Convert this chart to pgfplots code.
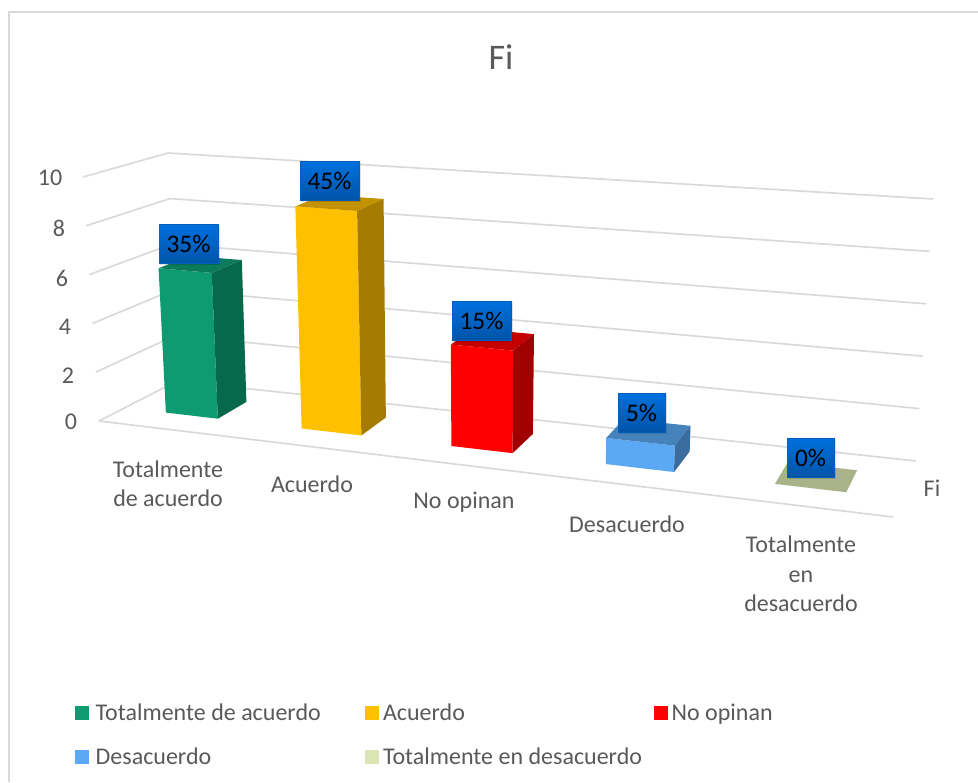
\documentclass[border=0pt]{standalone}
\usepackage{pgfplots}
\usepackage{fontspec}
\setmainfont{Carlito}
\pgfplotsset{compat=1.18}
\definecolor{txt}{HTML}{595959}
\definecolor{lineagris}{HTML}{D9D9D9}
\definecolor{boxtop}{HTML}{0070DE}
\definecolor{boxbot}{HTML}{0054A8}
\definecolor{verdeF}{HTML}{0E9B72}\definecolor{verdeT}{HTML}{0A7C5A}\definecolor{verdeS}{HTML}{06694B}
\definecolor{amarF}{HTML}{FFC000}\definecolor{amarT}{HTML}{C29200}\definecolor{amarS}{HTML}{A67C00}
\definecolor{rojoF}{HTML}{FF0000}\definecolor{rojoT}{HTML}{C40000}\definecolor{rojoS}{HTML}{A00000}
\definecolor{azulF}{HTML}{5BA9F5}\definecolor{azulT}{HTML}{4682BC}\definecolor{azulS}{HTML}{3B6C9E}
\definecolor{oliva}{HTML}{A9B389}\definecolor{olivaL}{HTML}{DBE5B6}

% One bar: s0, s1 = extent along the floor, value = height on the Fi scale.
% Depth runs from v=0.33 to v=0.73 of the floor.
\newcommand{\barra}[6]{%
  \addplot[fill=#5,draw=none,forget plot] table[row sep=\\,x expr={Px(\thisrow{s},\thisrow{v},\thisrow{w})},y expr={Py(\thisrow{s},\thisrow{v},\thisrow{w})}]
    {s v w\\ #1 0.33 0\\ #2 0.33 0\\ #2 0.33 #3\\ #1 0.33 #3\\};
  \addplot[fill=#6,draw=none,forget plot] table[row sep=\\,x expr={Px(\thisrow{s},\thisrow{v},\thisrow{w})},y expr={Py(\thisrow{s},\thisrow{v},\thisrow{w})}]
    {s v w\\ #2 0.33 #3\\ #2 0.73 #3\\ #1 0.73 #3\\ #1 0.33 #3\\};
  \addplot[fill=#4,draw=none,forget plot] table[row sep=\\,x expr={Px(\thisrow{s},\thisrow{v},\thisrow{w})},y expr={Py(\thisrow{s},\thisrow{v},\thisrow{w})}]
    {s v w\\ #2 0.33 0\\ #2 0.73 0\\ #2 0.73 #3\\ #2 0.33 #3\\};
}
% Gridline at height #1: along the left wall, then along the back wall.
\newcommand{\rejilla}[1]{%
  \addplot[lineagris,line width=1.25pt,forget plot] table[row sep=\\,x expr={Px(\thisrow{s},\thisrow{v},\thisrow{w})},y expr={Py(\thisrow{s},\thisrow{v},\thisrow{w})}]
    {s v w\\ 0 0 #1\\ 0 1 #1\\ 1 1 #1\\};
}
\tikzset{
  etiq/.style={draw=boxtop!85!black,line width=0.3pt,top color=boxtop,bottom color=boxbot,text=black,
    font=\fontsize{19}{19}\selectfont,inner sep=0pt,
    minimum height=29pt,anchor=center},
  sombra/.style={fill=black,opacity=0.12,draw=none,inner sep=0pt,minimum height=29.5pt,anchor=center},
  txtn/.style={text=txt,font=\fontsize{18}{22}\selectfont,align=center,anchor=center},
}
\newcommand{\caja}[4]{%
  \node[sombra,minimum width=#4+1pt] at (axis cs:#1+1,#2+1.5) {};
  \node[etiq,minimum width=#4] at (axis cs:#1,#2) {#3};
}
% Legend text: fixed cell width, so the columns sit where they should.
\newcommand{\celda}[3]{\makebox[#1][l]{\hspace{#2}#3}}

\begin{document}
\begin{tikzpicture}
\useasboundingbox (0pt,0pt) rectangle (733.5pt,586.5pt);
\begin{axis}[
  x=0.75pt,y=0.75pt,y dir=reverse,
  xmin=0,xmax=978,ymin=0,ymax=782,
  hide axis,clip=false,
  declare function={
    Bx(\s,\v)=(1-\v)*(99+794*\s)+\v*(177+739*\s);
    By(\s,\v)=(1-\v)*(421+96*\s)+\v*(381+80*\s);
    Tx(\s,\v)=(1-\v)*(83+825*\s)+\v*(168+765*\s);
    Ty(\s,\v)=(1-\v)*(177+60*\s)+\v*(153+46*\s);
    Px(\s,\v,\w)=(1-\w/10)*Bx(\s,\v)+\w/10*Tx(\s,\v);
    Py(\s,\v,\w)=(1-\w/10)*By(\s,\v)+\w/10*Ty(\s,\v);
  },
  legend style={draw=none,fill=none,at={(axis cs:75,735)},anchor=west,
    legend columns=3,text=txt,font=\fontsize{18}{22}\selectfont,
    row sep=15pt,inner sep=0pt,outer sep=0pt},
  legend cell align=left,
  legend image code/.code={\path[#1,draw=none] (0pt,-5.2pt) rectangle (10.5pt,5.2pt);},
]
% chart frame
\addplot[lineagris,line width=1.3pt,forget plot] coordinates {(9,782) (9,12) (978,12)};

\rejilla{0}\rejilla{2}\rejilla{4}\rejilla{6}\rejilla{8}\rejilla{10}
% front edge of the floor
\addplot[lineagris,line width=1.25pt,forget plot] table[row sep=\\,x expr={Px(\thisrow{s},\thisrow{v},\thisrow{w})},y expr={Py(\thisrow{s},\thisrow{v},\thisrow{w})}]
  {s v w\\ 0 0 0\\ 1 0 0\\};

\barra{0.053}{0.120}{6}{verdeS}{verdeF}{verdeT}
\barra{0.228}{0.305}{9}{amarS}{amarF}{amarT}
\barra{0.421}{0.500}{4}{rojoS}{rojoF}{rojoT}
\barra{0.620}{0.708}{1}{azulS}{azulF}{azulT}
\barra{0.838}{0.930}{0}{oliva}{oliva}{oliva}

\addlegendimage{fill=verdeF}\addlegendentry{\celda{203pt}{3pt}{Totalmente de acuerdo}}
\addlegendimage{fill=amarF}\addlegendentry{\celda{202pt}{1pt}{Acuerdo}}
\addlegendimage{fill=rojoF}\addlegendentry{\celda{100pt}{1pt}{No opinan}}
\addlegendimage{fill=azulF}\addlegendentry{\celda{203pt}{3pt}{Desacuerdo}}
\addlegendimage{fill=olivaL}\addlegendentry{\celda{202pt}{1pt}{Totalmente en desacuerdo}}

\caja{188.5}{244}{35\%}{44pt}
\caja{329.5}{180.5}{45\%}{44pt}
\caja{481.5}{320.5}{15\%}{44pt}
\caja{641.5}{412.5}{5\%}{35pt}
\caja{810.5}{457.5}{0\%}{35pt}

\node[text=txt,font=\fontsize{27}{27}\selectfont,anchor=center] at (axis cs:501,57) {Fi};
\node[txtn] at (axis cs:50,178) {10};
\node[txtn] at (axis cs:59,228) {8};
\node[txtn] at (axis cs:62,278) {6};
\node[txtn] at (axis cs:65,327) {4};
\node[txtn] at (axis cs:68,376) {2};
\node[txtn] at (axis cs:71,422) {0};
\node[txtn] at (axis cs:168,484) {Totalmente\\de acuerdo};
\node[txtn] at (axis cs:312,484) {Acuerdo};
\node[txtn] at (axis cs:464,502) {No opinan};
\node[txtn] at (axis cs:627,524) {Desacuerdo};
\node[txtn] at (axis cs:801,574) {Totalmente\\en\\desacuerdo};
\node[txtn] at (axis cs:932,488) {Fi};
\end{axis}
\end{tikzpicture}
\end{document}
